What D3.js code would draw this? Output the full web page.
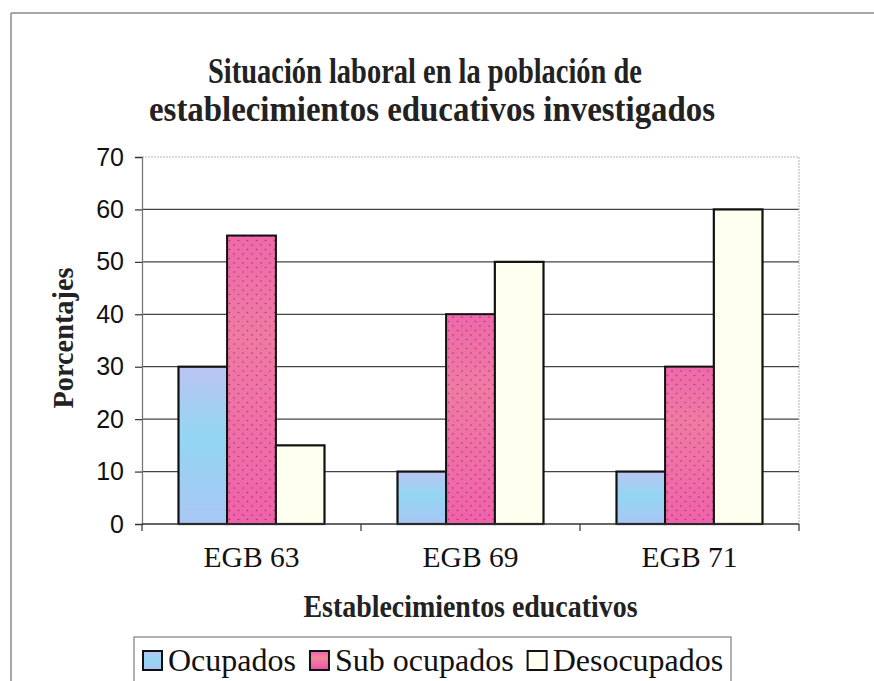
<!DOCTYPE html>
<html>
<head>
<meta charset="utf-8">
<script src="https://cdn.jsdelivr.net/npm/d3@7"></script>
<style>
  body { margin: 0; background: #fff; }
  svg { display: block; }
</style>
</head>
<body>
<div id="chart-area"><svg></svg></div>
<script>
const categories = ["EGB 63", "EGB 69", "EGB 71"];
const seriesNames = ["Ocupados", "Sub ocupados", "Desocupados"];
const ocupados = [30, 10, 10];
const subOcupados = [55, 40, 30];
const desocupados = [15, 50, 60];
const yTicks = [0, 10, 20, 30, 40, 50, 60, 70];

const chartSize = { width: 874, height: 681 };
const plot = { left: 142, right: 799, top: 157, bottom: 524 };
const serif = "'Liberation Serif', 'Times New Roman', serif";
const sans = "'Liberation Sans', Arial, sans-serif";

const fills = ["url(#gradBlue)", "url(#pinkDots)", "#fffff0"];

const svg = d3.select("#chart-area svg")
    .attr("width", chartSize.width)
    .attr("height", chartSize.height);

// fills
const defs = svg.append("defs");
const gb = defs.append("linearGradient").attr("id", "gradBlue")
    .attr("x1", 0).attr("y1", 0).attr("x2", 0).attr("y2", 1);
gb.append("stop").attr("offset", "0%").attr("stop-color", "#bcc4f2");
gb.append("stop").attr("offset", "45%").attr("stop-color", "#92d6f2");
gb.append("stop").attr("offset", "100%").attr("stop-color", "#a9c6f4");

const gp = defs.append("linearGradient").attr("id", "gradPink")
    .attr("x1", 0).attr("y1", 0).attr("x2", 0).attr("y2", 1);
gp.append("stop").attr("offset", "0%").attr("stop-color", "#ee5fae");
gp.append("stop").attr("offset", "35%").attr("stop-color", "#f0889e");
gp.append("stop").attr("offset", "100%").attr("stop-color", "#f04fae");

const pat = defs.append("pattern").attr("id", "pinkDots")
    .attr("patternUnits", "userSpaceOnUse")
    .attr("width", 9).attr("height", 9);
pat.append("rect").attr("width", 9).attr("height", 9).attr("fill", "#f070a8");
pat.append("circle").attr("cx", 2).attr("cy", 2).attr("r", 0.8).attr("fill", "#5a1838");
pat.append("circle").attr("cx", 6.5).attr("cy", 6.5).attr("r", 0.8).attr("fill", "#5a1838");

// outer frame (top and left)
svg.append("line").attr("x1", 11).attr("x2", 874).attr("y1", 13).attr("y2", 13)
    .attr("stroke", "#8a8a8a").attr("stroke-width", 1.5);
svg.append("line").attr("x1", 11).attr("x2", 11).attr("y1", 13).attr("y2", 681)
    .attr("stroke", "#8a8a8a").attr("stroke-width", 1.5);

// title
const title = svg.append("text")
    .attr("text-anchor", "middle")
    .attr("font-family", serif)
    .attr("font-weight", "bold")
    .attr("font-size", 35)
    .attr("fill", "#222");
title.append("tspan").attr("x", 425).attr("y", 83)
    .attr("textLength", 434).attr("lengthAdjust", "spacingAndGlyphs")
    .text("Situación laboral en la población de");
title.append("tspan").attr("x", 432).attr("y", 121)
    .attr("textLength", 566).attr("lengthAdjust", "spacingAndGlyphs")
    .text("establecimientos educativos investigados");

// scales
const y = d3.scaleLinear().domain([0, 70]).range([plot.bottom, plot.top]);
const x0 = d3.scaleBand().domain(categories).range([plot.left, plot.right]);
const x1 = d3.scaleBand().domain(seriesNames).range([0, x0.bandwidth()])
    .paddingInner(0).paddingOuter(0.75);

// gridlines
svg.append("g").selectAll("line").data(yTicks.filter(t => t > 0 && t < 70)).join("line")
    .attr("x1", plot.left).attr("x2", plot.right)
    .attr("y1", d => y(d)).attr("y2", d => y(d))
    .attr("stroke", "#444").attr("stroke-width", 1.2);
svg.append("line").attr("x1", plot.left).attr("x2", plot.right)
    .attr("y1", y(70)).attr("y2", y(70))
    .attr("stroke", "#b5b5b5").attr("stroke-dasharray", "2,1");
svg.append("line").attr("x1", plot.right).attr("x2", plot.right)
    .attr("y1", y(70)).attr("y2", y(0))
    .attr("stroke", "#b5b5b5").attr("stroke-dasharray", "2,1");

// y axis
const yAxis = d3.axisLeft(y).tickValues(yTicks).tickSize(7).tickPadding(11);
const yG = svg.append("g").attr("transform", `translate(${plot.left},0)`).call(yAxis);
yG.select(".domain").attr("stroke", "#777").attr("stroke-width", 1.3);
yG.selectAll(".tick line").attr("stroke", "#333").attr("stroke-width", 1.2);
yG.selectAll(".tick text")
    .attr("font-family", sans).attr("font-size", 25).attr("fill", "#111");

// bars
const values = [ocupados, subOcupados, desocupados];
const groups = svg.append("g").selectAll("g").data(categories).join("g")
    .attr("transform", c => `translate(${x0(c)},0)`);
groups.selectAll("rect")
    .data((c, i) => seriesNames.map((s, k) => ({ s, k, v: values[k][i] })))
    .join("rect")
    .attr("x", d => x1(d.s))
    .attr("width", x1.bandwidth())
    .attr("y", d => y(d.v))
    .attr("height", d => y(0) - y(d.v))
    .attr("fill", d => fills[d.k])
    .attr("stroke", "#111")
    .attr("stroke-width", 2.2);
// pink gradient with dots on top
groups.selectAll("rect.pg")
    .data((c, i) => [{ v: subOcupados[i] }])
    .join("rect").attr("class", "pg")
    .attr("x", x1("Sub ocupados") + 1.1)
    .attr("width", x1.bandwidth() - 2.2)
    .attr("y", d => y(d.v) + 1.1)
    .attr("height", d => y(0) - y(d.v) - 2.2)
    .attr("fill", "url(#gradPink)")
    .attr("opacity", 0.7);
groups.selectAll("rect.pd")
    .data((c, i) => [{ v: subOcupados[i] }])
    .join("rect").attr("class", "pd")
    .attr("x", x1("Sub ocupados") + 1.1)
    .attr("width", x1.bandwidth() - 2.2)
    .attr("y", d => y(d.v) + 1.1)
    .attr("height", d => y(0) - y(d.v) - 2.2)
    .attr("fill", "url(#pinkDots)")
    .attr("opacity", 0.4);

// x axis
const xG = svg.append("g").attr("transform", `translate(0,${plot.bottom})`);
xG.append("line").attr("x1", plot.left).attr("x2", plot.right)
    .attr("stroke", "#333").attr("stroke-width", 1.5);
xG.selectAll("line.tk").data(categories.map(c => x0(c)).concat([plot.right])).join("line")
    .attr("class", "tk")
    .attr("x1", d => d).attr("x2", d => d).attr("y1", 0).attr("y2", 7)
    .attr("stroke", "#333").attr("stroke-width", 1.2);
xG.selectAll("text").data(categories).join("text")
    .attr("x", c => x0(c) + x0.bandwidth() / 2)
    .attr("y", 43)
    .attr("text-anchor", "middle")
    .attr("font-family", serif).attr("font-size", 29).attr("fill", "#111")
    .attr("textLength", 96).attr("lengthAdjust", "spacingAndGlyphs")
    .text(c => c);

// axis titles
svg.append("text")
    .attr("x", (plot.left + plot.right) / 2).attr("y", 617)
    .attr("text-anchor", "middle")
    .attr("font-family", serif).attr("font-weight", "bold").attr("font-size", 31)
    .attr("fill", "#222")
    .attr("textLength", 334).attr("lengthAdjust", "spacingAndGlyphs")
    .text("Establecimientos educativos");
svg.append("text")
    .attr("transform", `translate(73,338) rotate(-90)`)
    .attr("text-anchor", "middle")
    .attr("font-family", serif).attr("font-weight", "bold").attr("font-size", 30)
    .attr("fill", "#222")
    .attr("textLength", 141).attr("lengthAdjust", "spacingAndGlyphs")
    .text("Porcentajes");

// legend
const legend = svg.append("g");
legend.append("rect")
    .attr("x", 134).attr("y", 637).attr("width", 597).attr("height", 50)
    .attr("fill", "#fff").attr("stroke", "#888").attr("stroke-width", 1.3);
let lx = 143;
seriesNames.forEach((s, k) => {
    legend.append("rect")
        .attr("x", lx).attr("y", 651).attr("width", 19).attr("height", 19)
        .attr("fill", k === 1 ? "url(#gradPink)" : fills[k])
        .attr("stroke", "#111").attr("stroke-width", 2);
    const t = legend.append("text")
        .attr("x", lx + 25).attr("y", 671)
        .attr("font-family", serif).attr("font-size", 32).attr("fill", "#111")
        .text(s);
    lx += 25 + t.node().getComputedTextLength() + 14;
});
</script>
</body>
</html>
